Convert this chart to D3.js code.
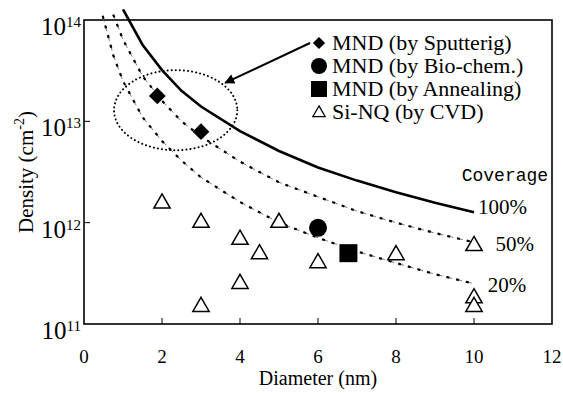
<!DOCTYPE html>
<html>
<head>
<meta charset="utf-8">
<script src="https://cdn.jsdelivr.net/npm/d3@7"></script>
<style>
  body { margin: 0; background: #fff; }
</style>
</head>
<body>
<script>
// coverage curves (diameter nm, density cm^-2)
let cov100D = [1.0, 1.5, 2, 2.5, 3, 4, 5, 6, 7, 8, 9, 10];
let cov100V = [1.27e14, 5.7e13, 3.2e13, 2.0e13, 1.4e13, 8.0e12, 5.1e12, 3.5e12, 2.6e12, 2.0e12, 1.57e12, 1.27e12];
let cov50D = [0.75, 1.0, 1.5, 2, 2.5, 3, 4, 5, 6, 7, 8, 9, 10];
let cov50V = [1.13e14, 6.4e13, 2.8e13, 1.6e13, 1.0e13, 7.1e12, 4.0e12, 2.5e12, 1.8e12, 1.3e12, 1.0e12, 7.9e11, 6.4e11];
let cov20D = [0.48, 0.75, 1.0, 1.5, 2, 2.5, 3, 4, 5, 6, 7, 8, 9, 10];
let cov20V = [1.1e14, 4.5e13, 2.5e13, 1.1e13, 6.4e12, 4.1e12, 2.8e12, 1.6e12, 1.0e12, 7.1e11, 5.2e11, 4.0e11, 3.1e11, 2.5e11];

// measured points
let sputD = [1.88, 3.0];
let sputV = [1.78e13, 7.9e12];
let bioD = [6.0];
let bioV = [8.9e11];
let annD = [6.78];
let annV = [5.0e11];
let cvdD = [2, 3, 3, 4, 4, 4.5, 5, 6, 8, 10, 10, 10];
let cvdV = [1.55e12, 1.0e12, 1.48e11, 6.8e11, 2.5e11, 4.9e11, 1.0e12, 4.0e11, 4.8e11, 5.9e11, 1.8e11, 1.48e11];

let xTicks = [0, 2, 4, 6, 8, 10, 12];
let yExps = [11, 12, 13, 14];
let legendNames = ["MND (by Sputterig)", "MND (by Bio-chem.)", "MND (by Annealing)", "Si-NQ (by CVD)"];

let serif = "'Liberation Serif', 'DejaVu Serif', serif";
let mono = "'Liberation Mono', 'DejaVu Sans Mono', monospace";

let margin = {top: 20, left: 84, bottom: 69, right: 11};
let W = 563, H = 393;
let width = W - margin.left - margin.right,
    height = H - margin.top - margin.bottom;

let svg = d3.select("body").append("svg")
  .attr("width", W).attr("height", H)
  .attr("font-family", serif);
let g = svg.append("g")
  .attr("transform", "translate(" + margin.left + "," + margin.top + ")");

let x = d3.scaleLinear().domain([0, 12]).range([0, width]);
let y = d3.scaleLog().domain([1e11, 1e14]).range([height, 0]);

// frame
g.append("rect")
  .attr("width", width).attr("height", height)
  .attr("fill", "none").attr("stroke", "#000").attr("stroke-width", 1.6);

// x ticks (inside) and labels
g.selectAll(".xt").data(xTicks.slice(1, -1)).enter().append("line")
  .attr("x1", d => x(d)).attr("x2", d => x(d))
  .attr("y1", height).attr("y2", height - 6)
  .attr("stroke", "#000").attr("stroke-width", 1);
g.selectAll(".xl").data(xTicks).enter().append("text")
  .attr("font-family", serif)
  .attr("x", d => x(d)).attr("y", height + 39)
  .attr("text-anchor", "middle").attr("font-size", 19)
  .text(d => d);

// y ticks and labels
g.selectAll(".yt").data(yExps.slice(1, -1)).enter().append("line")
  .attr("x1", 0).attr("x2", 6)
  .attr("y1", d => y(Math.pow(10, d))).attr("y2", d => y(Math.pow(10, d)))
  .attr("stroke", "#000").attr("stroke-width", 1);
let yl = g.selectAll(".yl").data(yExps).enter().append("text")
  .attr("font-family", serif)
  .attr("x", -3).attr("y", d => y(Math.pow(10, d)) + 15)
  .attr("text-anchor", "end");
yl.append("tspan").attr("font-size", 25).text("10");
yl.append("tspan").attr("dy", -8).attr("font-size", 15).text(d => d);

// axis titles
g.append("text")
  .attr("font-family", serif)
  .attr("x", width / 2).attr("y", height + 61)
  .attr("text-anchor", "middle").attr("font-size", 20)
  .text("Diameter (nm)");
let yt = svg.append("text")
  .attr("font-family", serif)
  .attr("transform", "translate(33," + (margin.top + height / 2) + ") rotate(-90)")
  .attr("text-anchor", "middle").attr("font-size", 21);
yt.append("tspan").text("Density (cm");
yt.append("tspan").attr("dy", -9).attr("font-size", 14).text("-2");
yt.append("tspan").attr("dy", 9).text(")");

// coverage curves
let line = d3.line().x(d => x(d[0])).y(d => y(d[1]));
function curve(ds, vs) { return ds.map((d, i) => [d, vs[i]]); }

g.append("path").attr("d", line(curve(cov100D, cov100V)))
  .attr("fill", "none").attr("stroke", "#000").attr("stroke-width", 2.6);

[[cov50D, cov50V], [cov20D, cov20V]].forEach(function(c) {
  let pts = curve(c[0], c[1]);
  g.append("path").attr("d", line(pts))
    .attr("fill", "none").attr("stroke", "#555").attr("stroke-width", 0.8)
    .attr("stroke-dasharray", "6,4");
  g.append("path").attr("d", line(pts))
    .attr("fill", "none").attr("stroke", "#000").attr("stroke-width", 2.2)
    .attr("stroke-dasharray", "3,7");
});

// coverage labels
g.append("text").attr("x", x(11.9)).attr("y", y(2.6e12))
  .attr("text-anchor", "end")
  .attr("font-family", mono)
  .attr("font-size", 18).text("Coverage");
g.append("text").attr("font-family", serif)
  .attr("x", x(10.1)).attr("y", y(1.27e12) + 2)
  .attr("font-size", 21).text("100%");
g.append("text").attr("font-family", serif)
  .attr("x", x(10.55)).attr("y", y(6.4e11) + 9)
  .attr("font-size", 21).text("50%");
g.append("text").attr("font-family", serif)
  .attr("x", x(10.35)).attr("y", y(2.5e11) + 8)
  .attr("font-size", 21).text("20%");

// ellipse around sputtered points
let ell = {cx: 2.35, cy: 13.11, rx: 1.58, ry: 0.395};
g.append("ellipse")
  .attr("cx", x(ell.cx)).attr("cy", y(Math.pow(10, ell.cy)))
  .attr("rx", x(ell.cx + ell.rx) - x(ell.cx))
  .attr("ry", y(Math.pow(10, ell.cy)) - y(Math.pow(10, ell.cy + ell.ry)))
  .attr("fill", "none").attr("stroke", "#000").attr("stroke-width", 2)
  .attr("stroke-linecap", "round").attr("stroke-dasharray", "0.1,4");

// symbols
let sym = d3.symbol();
function pts(ds, vs) { return ds.map((d, i) => ({d: d, v: vs[i]})); }
g.selectAll(".sp").data(pts(sputD, sputV)).enter().append("path")
  .attr("d", sym.type(d3.symbolSquare).size(140)())
  .attr("transform", d => "translate(" + x(d.d) + "," + y(d.v) + ") rotate(45)")
  .attr("fill", "#000");
g.selectAll(".bi").data(pts(bioD, bioV)).enter().append("circle")
  .attr("cx", d => x(d.d)).attr("cy", d => y(d.v)).attr("r", 9)
  .attr("fill", "#000");
g.selectAll(".an").data(pts(annD, annV)).enter().append("rect")
  .attr("x", d => x(d.d) - 9).attr("y", d => y(d.v) - 9)
  .attr("width", 18).attr("height", 18).attr("fill", "#000");
let tri = d3.symbol().type(d3.symbolTriangle).size(115);
g.selectAll(".cv").data(pts(cvdD, cvdV)).enter().append("path")
  .attr("d", tri())
  .attr("transform", d => "translate(" + x(d.d) + "," + y(d.v) + ")")
  .attr("fill", "#fff").attr("stroke", "#000").attr("stroke-width", 1.5);

// legend
let lg = svg.append("g").attr("transform", "translate(319,43)");
let lgStep = 23;
lg.append("path").attr("d", sym.type(d3.symbolSquare).size(75)())
  .attr("transform", "rotate(45)").attr("fill", "#000");
lg.append("circle").attr("cy", lgStep).attr("r", 8).attr("fill", "#000");
lg.append("rect").attr("x", -8).attr("y", 2 * lgStep - 8)
  .attr("width", 16).attr("height", 16).attr("fill", "#000");
lg.append("path").attr("d", d3.symbol().type(d3.symbolTriangle).size(65)())
  .attr("transform", "translate(0," + (3 * lgStep + 1) + ")")
  .attr("fill", "#fff").attr("stroke", "#000").attr("stroke-width", 1.3);
lg.selectAll("text").data(legendNames).enter().append("text")
  .attr("font-family", serif)
  .attr("x", 13).attr("y", (d, i) => i * lgStep + 7)
  .attr("font-size", 22).text(d => d);

// arrow from legend to ellipse
svg.append("defs").append("marker")
  .attr("id", "ah").attr("viewBox", "0 0 10 10")
  .attr("refX", 9).attr("refY", 5)
  .attr("markerWidth", 6).attr("markerHeight", 5)
  .attr("markerUnits", "strokeWidth").attr("orient", "auto")
  .append("path").attr("d", "M0,0L10,5L0,10z").attr("fill", "#000");
g.append("line")
  .attr("x1", 310 - margin.left).attr("y1", 43 - margin.top)
  .attr("x2", x(3.62)).attr("y2", y(Math.pow(10, 13.38)))
  .attr("stroke", "#000").attr("stroke-width", 2)
  .attr("marker-end", "url(#ah)");
</script>
</body>
</html>
